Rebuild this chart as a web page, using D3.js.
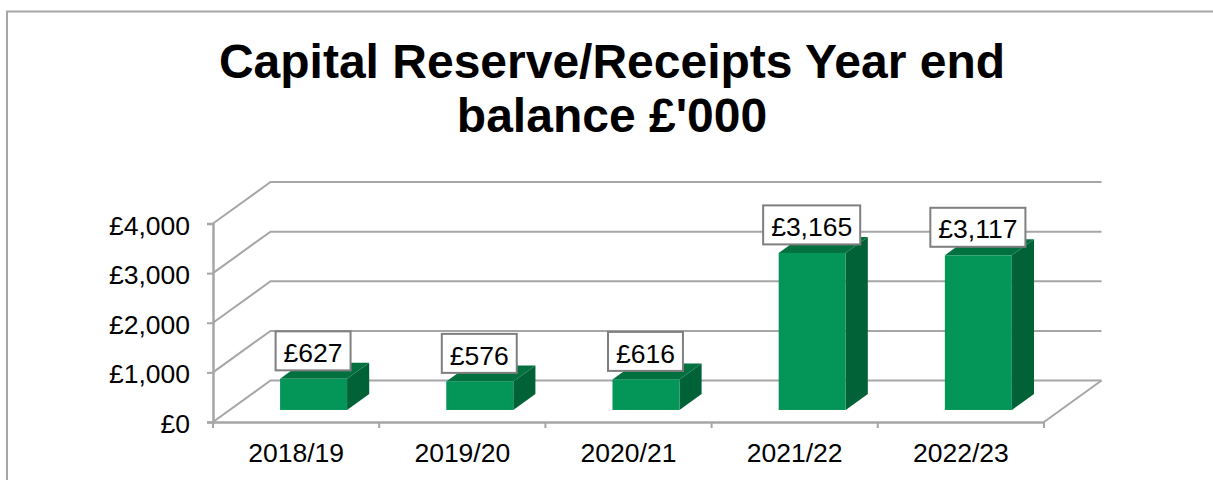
<!DOCTYPE html>
<html>
<head>
<meta charset="utf-8">
<script src="https://cdn.jsdelivr.net/npm/d3@7/dist/d3.min.js"></script>
<style>
  html, body { margin: 0; padding: 0; background: #fff; }
  svg { display: block; }
  text { font-family: "Liberation Sans", Arial, sans-serif; fill: #000; }
</style>
</head>
<body>
<div id="chart"></div>
<script>
const titleLines = ["Capital Reserve/Receipts Year end", "balance £'000"];
const categories = ["2018/19", "2019/20", "2020/21", "2021/22", "2022/23"];
const balances = [627, 576, 616, 3165, 3117];
const yTicks = [0, 1000, 2000, 3000, 4000];

const width = 1213, height = 480;
const gridColor = "#a6a6a6";
const frontColor = "#049559", sideColor = "#006236", topColor = "#03703f";

// Oblique projection: the plot floor recedes up and to the right.
const depthX = 57.5, depthY = -41.5;
const barDepthStart = 0.29, barDepthEnd = 0.675;

const svg = d3.select("#chart").append("svg")
  .attr("width", width).attr("height", height);

// Outer chart frame: open on the right and bottom edges
svg.append("path")
  .attr("d", "M7,480V11.5H1213")
  .attr("fill", "none").attr("stroke", gridColor).attr("stroke-width", 2);

// Title
svg.append("g").selectAll("text").data(titleLines).join("text")
  .attr("x", 612).attr("y", (d, i) => 77.5 + i * 54)
  .attr("text-anchor", "middle")
  .attr("font-size", 48).attr("font-weight", "bold")
  .text(d => d);

const x = d3.scaleBand().domain(categories).range([213, 1044]);
const y = d3.scaleLinear().domain([0, 4000]).range([422, 223.5]);

// Side wall and back wall gridlines
const gridGroup = svg.append("g").attr("fill", "none")
  .attr("stroke", gridColor).attr("stroke-width", 2);
gridGroup.selectAll("path").data(yTicks).join("path")
  .attr("d", d => d3.line()([
    [x.range()[0], y(d)],
    [x.range()[0] + depthX, y(d) + depthY],
    [x.range()[1] + depthX, y(d) + depthY]
  ]));

// Right edge of the floor
gridGroup.append("path").attr("d", d3.line()([
  [x.range()[1], y(0)],
  [x.range()[1] + depthX, y(0) + depthY]
]));

// Axes
const yAxis = svg.append("g").attr("transform", `translate(${x.range()[0]},0)`)
  .call(d3.axisLeft(y).tickValues(yTicks).tickSize(6).tickPadding(17)
    .tickFormat(d => "£" + d3.format(",")(d)));
const xAxis = svg.append("g").attr("transform", `translate(0,${y(0)})`)
  .call(d3.axisBottom(x).tickSize(0).tickPadding(21));

[yAxis, xAxis].forEach(a => {
  a.select(".domain").attr("stroke", gridColor).attr("stroke-width", 2.5);
  a.selectAll(".tick line").attr("stroke", gridColor).attr("stroke-width", 2);
  a.selectAll("text").attr("font-size", 26.5).attr("font-family", null).attr("fill", "#000");
});
yAxis.selectAll("text").attr("dy", "0.4em");

// Category separators below the floor's front edge
svg.append("g").selectAll("line").data(categories.concat([null])).join("line")
  .attr("x1", (d, i) => x.range()[0] + i * x.step())
  .attr("x2", (d, i) => x.range()[0] + i * x.step())
  .attr("y1", y(0)).attr("y2", y(0) + 6)
  .attr("stroke", gridColor).attr("stroke-width", 2);

// Bars
const barWidth = 67;
const rows = categories.map((c, i) => {
  const fx = x(c) + (x.bandwidth() - barWidth) / 2 + depthX * barDepthStart + 0.8;
  const base = y(0) + depthY * barDepthStart;
  return {
    category: c, value: balances[i], fx, base,
    top: base - (y(0) - y(balances[i])),
    dx: depthX * (barDepthEnd - barDepthStart),
    dy: depthY * (barDepthEnd - barDepthStart)
  };
});

const bars = svg.append("g").selectAll("g").data(rows).join("g");
bars.append("polygon").attr("fill", sideColor)
  .attr("points", d => [
    [d.fx + barWidth, d.base], [d.fx + barWidth + d.dx, d.base + d.dy],
    [d.fx + barWidth + d.dx, d.top + d.dy], [d.fx + barWidth, d.top]
  ].join(" "));
bars.append("polygon").attr("fill", topColor)
  .attr("points", d => [
    [d.fx, d.top], [d.fx + d.dx, d.top + d.dy],
    [d.fx + barWidth + d.dx, d.top + d.dy], [d.fx + barWidth, d.top]
  ].join(" "));
bars.append("rect").attr("fill", frontColor)
  .attr("x", d => d.fx).attr("y", d => d.top)
  .attr("width", barWidth).attr("height", d => d.base - d.top);

// Value labels in outlined boxes above each bar
const labels = svg.append("g").selectAll("g").data(rows).join("g")
  .attr("transform", d => `translate(${d.fx + barWidth / 2 - 0.5},${d.top - 28})`);
const labelText = d => "£" + d3.format(",")(d.value);
labels.append("rect")
  .attr("fill", "#fff").attr("stroke", "#7f7f7f").attr("stroke-width", 2);
labels.append("text").attr("text-anchor", "middle").attr("dy", "0.42em")
  .attr("font-size", 26.5).text(labelText);
labels.each(function () {
  const g = d3.select(this);
  const w = g.select("text").node().getComputedTextLength() + 16;
  g.select("rect").attr("x", -w / 2).attr("y", -19.5).attr("width", w).attr("height", 39);
});
</script>
</body>
</html>
